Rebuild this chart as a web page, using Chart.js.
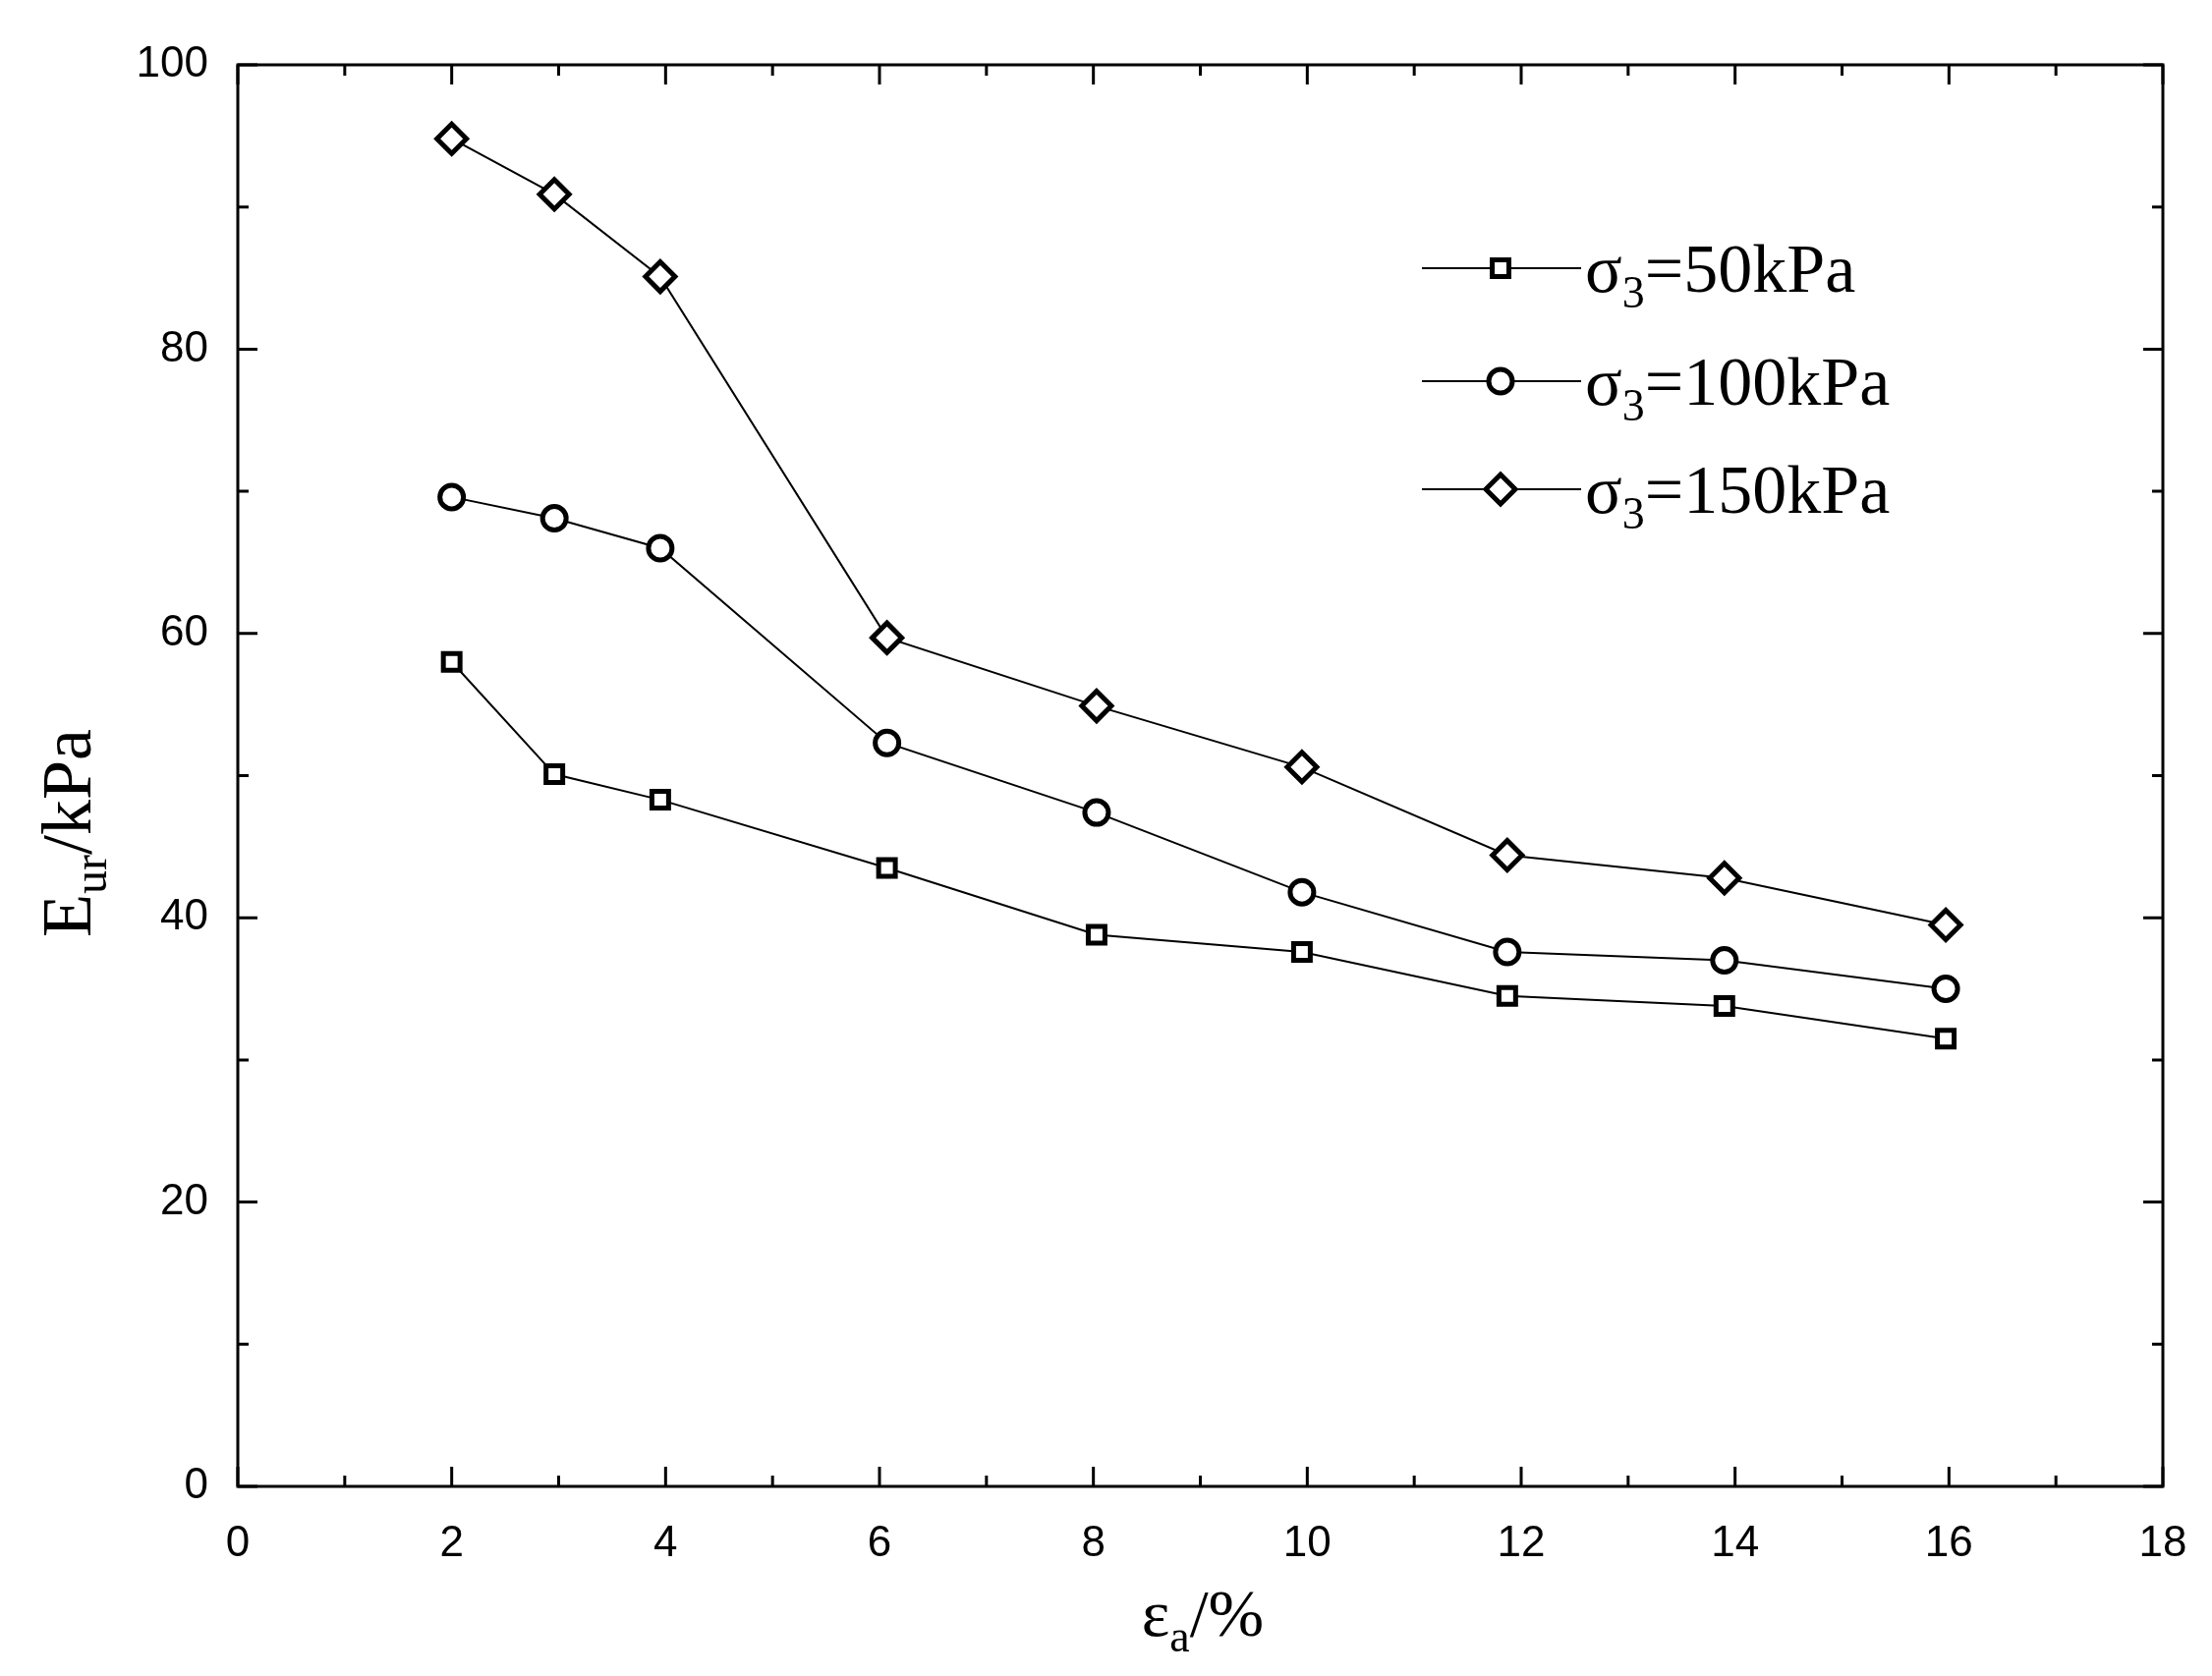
<!DOCTYPE html>
<html><head><meta charset="utf-8">
<script src="https://cdn.jsdelivr.net/npm/chart.js@4/dist/chart.umd.min.js"></script>
<style>html,body{margin:0;padding:0;background:#fff}</style></head>
<body><canvas id="c" width="2251" height="1706"></canvas>
<script>
const strainX = [2.0, 2.96, 3.95, 6.07, 8.03, 9.95, 11.87, 13.9, 15.97];
const e50 = [58.0, 50.1, 48.3, 43.5, 38.8, 37.6, 34.5, 33.8, 31.5];
const e100 = [69.6, 68.1, 66.0, 52.3, 47.4, 41.8, 37.6, 37.0, 35.0];
const e150 = [94.8, 90.9, 85.1, 59.7, 54.9, 50.6, 44.4, 42.8, 39.5];
const seriesNames = ["50kPa", "100kPa", "150kPa"];
const pointStyles = ["rect", "circle", "rectRot"];
const xTicks = [0,2,4,6,8,10,12,14,16,18];
const yTicks = [0,20,40,60,80,100];

const mk = (vals, i) => ({
  label: seriesNames[i],
  data: strainX.map((x, k) => ({x, y: vals[k]})),
  borderColor: '#000', borderWidth: 2, backgroundColor: '#fff',
  pointStyle: pointStyles[i], pointRadius: i===2 ? 15 : 12,
  pointBorderWidth: 5, pointBorderColor: '#000', pointBackgroundColor: '#fff'
});

function richText(c, parts, x, y, measureOnly) {
  let w = 0;
  for (const [t, size, dy] of parts) {
    c.font = size + 'px "Liberation Serif"';
    if (!measureOnly) c.fillText(t, x + w, y + dy);
    w += c.measureText(t).width;
  }
  return w;
}

const deco = {
  id: 'deco',
  afterDraw(ch) {
    const c = ch.ctx, a = ch.chartArea, xs = ch.scales.x, ys = ch.scales.y;
    c.save();
    c.strokeStyle = '#000'; c.lineWidth = 3;
    c.strokeRect(a.left, a.top, a.right - a.left, a.bottom - a.top);
    for (let v = 0; v <= 18; v += 1) {
      const p = xs.getPixelForValue(v), L = v % 2 ? 11 : 20;
      c.beginPath(); c.moveTo(p, a.bottom); c.lineTo(p, a.bottom - L);
      c.moveTo(p, a.top); c.lineTo(p, a.top + L); c.stroke();
    }
    for (let v = 0; v <= 100; v += 10) {
      const p = ys.getPixelForValue(v), L = v % 20 ? 11 : 20;
      c.beginPath(); c.moveTo(a.left, p); c.lineTo(a.left + L, p);
      c.moveTo(a.right, p); c.lineTo(a.right - L, p); c.stroke();
    }
    c.fillStyle = '#000'; c.textBaseline = 'alphabetic';
    const xt = [['ε', 68, 0], ['a', 46, 16], ['/%', 68, 0]];
    let w = richText(c, xt, 0, 0, true);
    richText(c, xt, 1224 - w / 2, 1665, false);
    const yt = [['E', 72, 0], ['ur', 48, 16], ['/kPa', 72, 0]];
    c.save(); c.translate(92, 0); c.rotate(-Math.PI / 2);
    w = richText(c, yt, 0, 0, true);
    richText(c, yt, -848 - w / 2, 0, false);
    c.restore();
    const rows = [273, 388, 498];
    ch.data.datasets.forEach((d, i) => {
      const y = rows[i];
      c.strokeStyle = '#000'; c.lineWidth = 2;
      c.beginPath(); c.moveTo(1447, y); c.lineTo(1609, y); c.stroke();
      c.fillStyle = '#fff'; c.lineWidth = 5;
      Chart.helpers.drawPoint(c, {pointStyle: d.pointStyle, radius: d.pointRadius, borderWidth: 5}, 1527, y);
      c.fillStyle = '#000';
      richText(c, [['σ', 70, 0], ['3', 46, 16], ['=' + d.label, 70, 0]], 1613, y + 24, false);
    });
    c.restore();
  }
};

new Chart(document.getElementById('c'), {
  type: 'line',
  data: { datasets: [mk(e50, 0), mk(e100, 1), mk(e150, 2)] },
  options: {
    responsive: false, devicePixelRatio: 1, animation: false,
    layout: { padding: { left: 0, top: 66, right: 50, bottom: 0 } },
    plugins: { legend: { display: false }, tooltip: { enabled: false } },
    scales: {
      x: { type: 'linear', min: 0, max: 18,
        afterBuildTicks: s => { s.ticks = xTicks.map(v => ({value: v})); },
        afterFit: s => { s.height = 193; },
        grid: { display: false }, border: { display: false },
        ticks: { font: { family: 'Liberation Sans', size: 44 }, color: '#000', padding: 24 } },
      y: { min: 0, max: 100,
        afterBuildTicks: s => { s.ticks = yTicks.map(v => ({value: v})); },
        afterFit: s => { s.width = 242; },
        grid: { display: false }, border: { display: false },
        ticks: { font: { family: 'Liberation Sans', size: 44 }, color: '#000', padding: 22 } }
    }
  },
  plugins: [deco]
});
</script></body></html>
